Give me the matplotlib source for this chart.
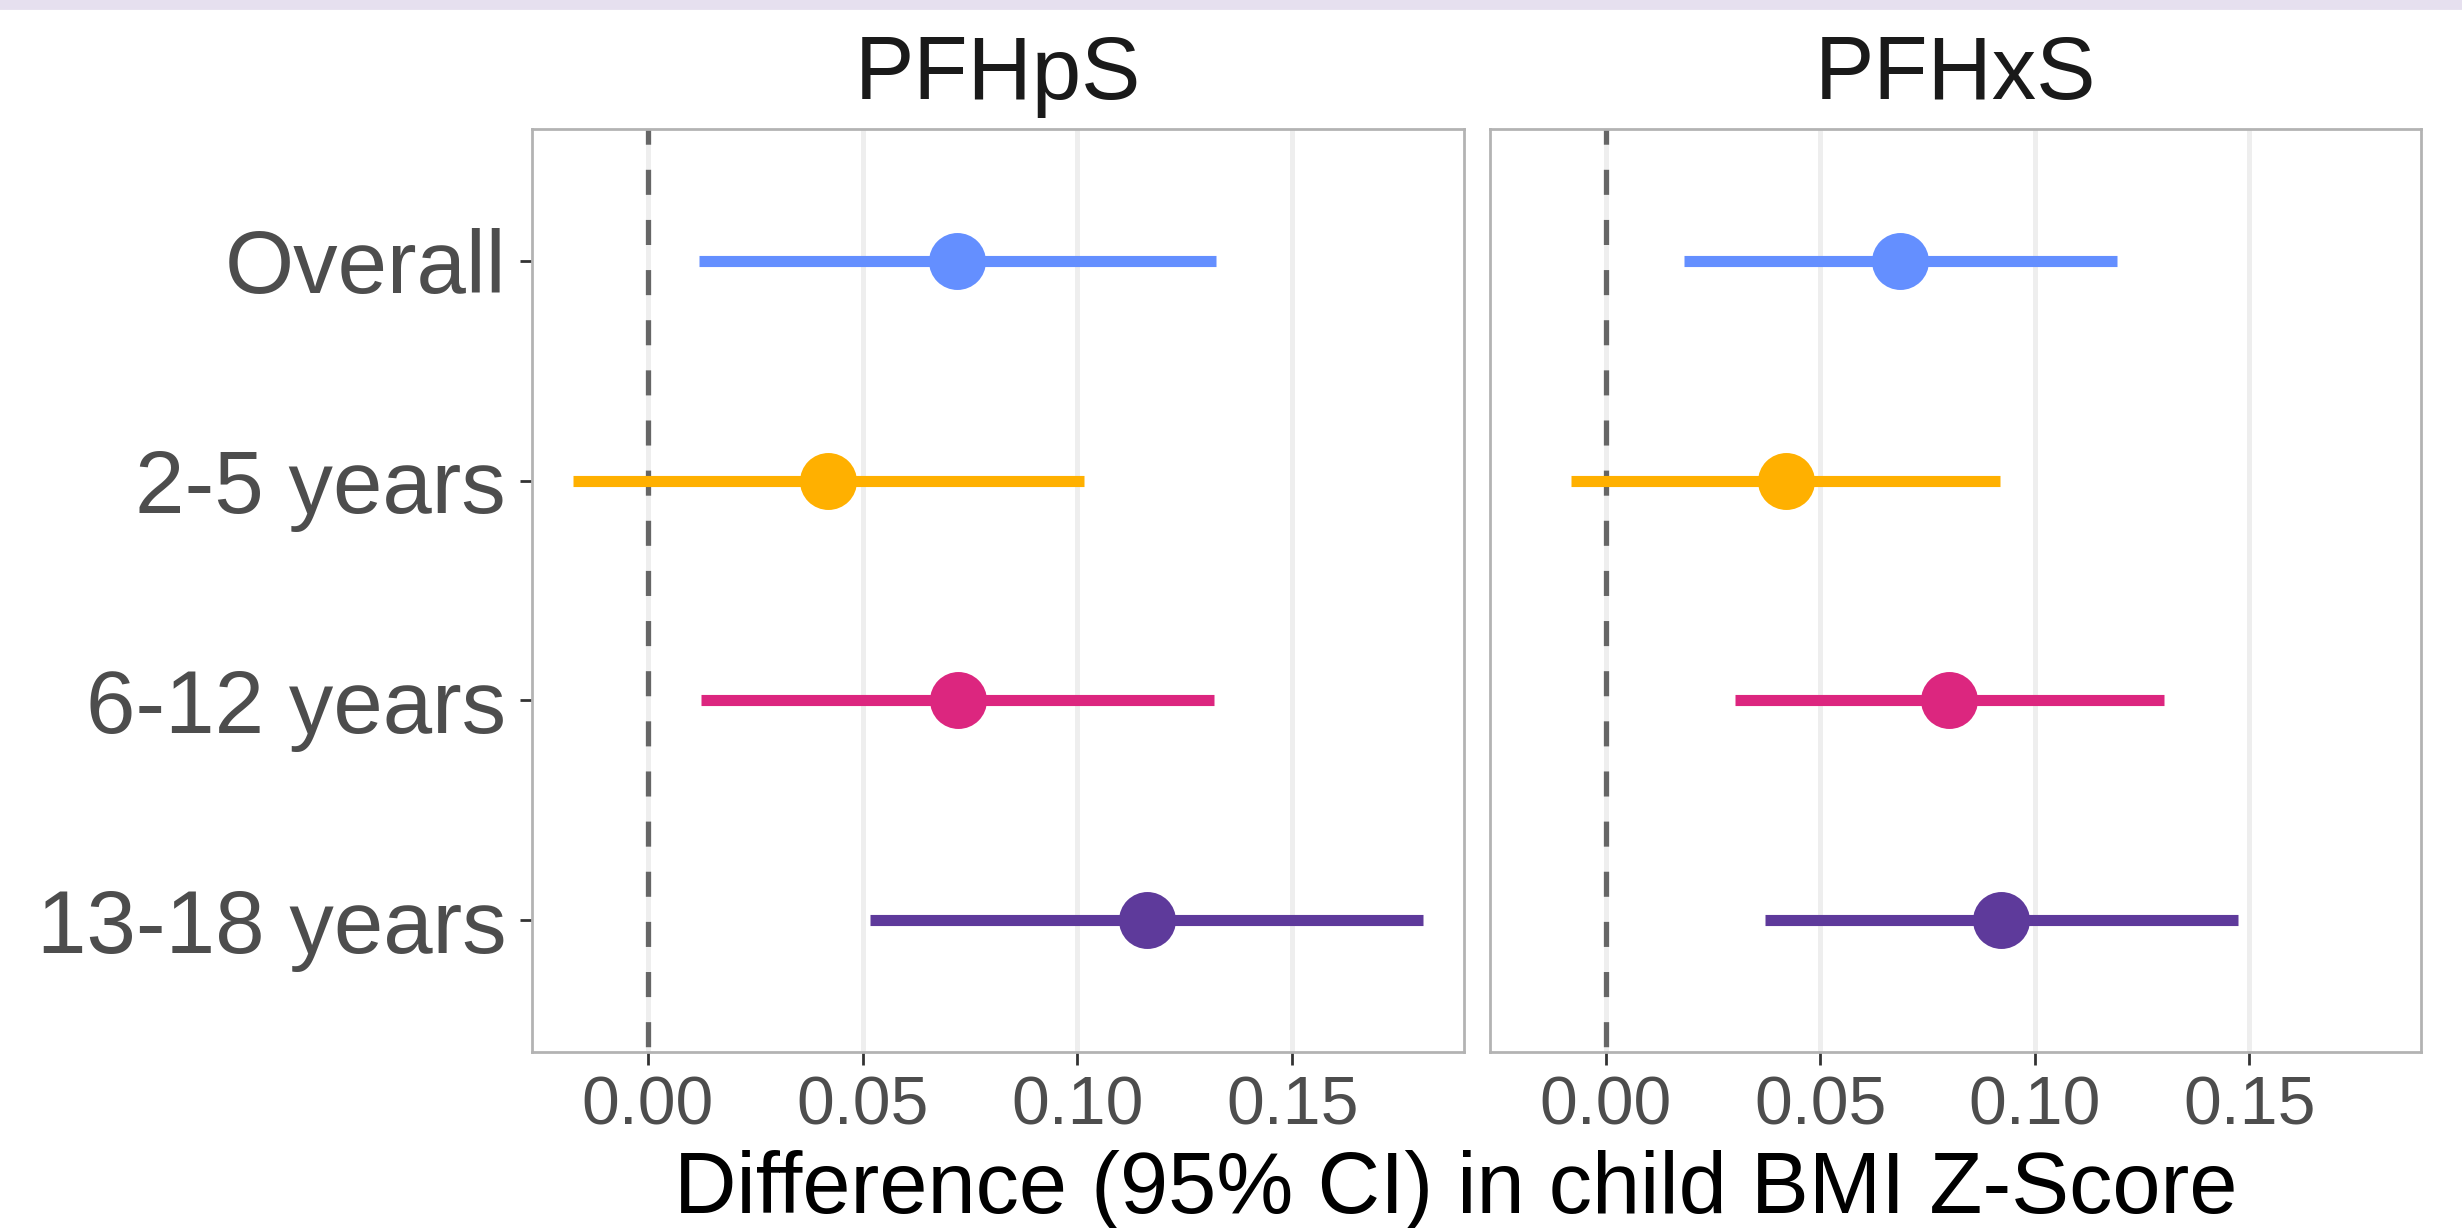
import matplotlib.pyplot as plt
from matplotlib.patches import Rectangle

# =====================================================
# Data
# =====================================================

groups = ["Overall", "2-5 years", "6-12 years", "13-18 years"]

group_colors = ["#648FFF", "#FFB000", "#DC267F", "#5E3A9B"]

chemicals = ["PFHpS", "PFHxS"]

pfhps_est = [0.0720, 0.0420, 0.0722, 0.1163]
pfhps_lo = [0.0119, -0.0174, 0.0123, 0.0518]
pfhps_hi = [0.1322, 0.1016, 0.1319, 0.1805]

pfhxs_est = [0.0686, 0.0420, 0.0801, 0.0922]
pfhxs_lo = [0.0182, -0.0081, 0.0300, 0.0372]
pfhxs_hi = [0.1191, 0.0918, 0.1301, 0.1473]

x_ticks = [0.00, 0.05, 0.10, 0.15]

# =====================================================
# Figure
# =====================================================

plt.rcParams["font.family"] = ["Liberation Sans", "DejaVu Sans"]

DPI = 200
fig = plt.figure(figsize=(2462 / DPI, 1228 / DPI), dpi=DPI)

# thin lavender band at the very top
fig.patches.append(
    Rectangle((0, 1 - 8 / 1228), 1, 8 / 1228,
              transform=fig.transFigure, color="#E6E0EF", zorder=0)
)

bottom = 1 - 1052 / 1228
height = (1052 - 129) / 1228

ax_left = fig.add_axes([532 / 2462, bottom, (1464 - 532) / 2462, height])
ax_right = fig.add_axes([1490 / 2462, bottom, (2421 - 1490) / 2462, height])

panels = [
    (ax_left, pfhps_est, pfhps_lo, pfhps_hi),
    (ax_right, pfhxs_est, pfhxs_lo, pfhxs_hi),
]

for i, (ax, est, lo, hi) in enumerate(panels):

    ax.set_xlim(-0.027, 0.19)
    ax.set_ylim(len(groups) - 0.4, -0.6)

    ax.grid(axis="x", color="#EEEEEE", linewidth=1.8, zorder=0)
    ax.set_axisbelow(True)

    ax.axvline(0, color="#666666", linewidth=1.9,
               linestyle=(8.5, (4.75, 4.75)), zorder=1)

    for j, g in enumerate(groups):
        ax.plot([lo[j], hi[j]], [j, j], color=group_colors[j],
                linewidth=4.0, solid_capstyle="butt", zorder=2)
        ax.plot(est[j], j, "o", color=group_colors[j],
                markersize=20.5, markeredgewidth=0, zorder=3)

    for side in ax.spines.values():
        side.set_color("#B3B3B3")
        side.set_linewidth(1.0)

    ax.set_xticks(x_ticks)
    ax.set_xticklabels([f"{t:.2f}" for t in x_ticks])
    ax.tick_params(axis="x", labelsize=24.5, labelcolor="#4D4D4D",
                   color="#333333", length=4.7, width=1.0, pad=3.5)

    ax.set_yticks(range(len(groups)))
    if i == 0:
        ax.set_yticklabels(groups)
        ax.tick_params(axis="y", labelsize=32, labelcolor="#4D4D4D",
                       color="#333333", length=4.3, width=1.0, pad=5)
    else:
        ax.set_yticklabels([])
        ax.tick_params(axis="y", length=0)

    ax.set_title(chemicals[i], fontsize=32, color="#1A1A1A", pad=10.8)

fig.text(1456 / 2462, 1 - 1213 / 1228,
         "Difference (95% CI) in child BMI Z-Score",
         fontsize=31.2, color="black", ha="center", va="baseline")

fig.savefig("out.png", dpi=DPI, facecolor="white")
